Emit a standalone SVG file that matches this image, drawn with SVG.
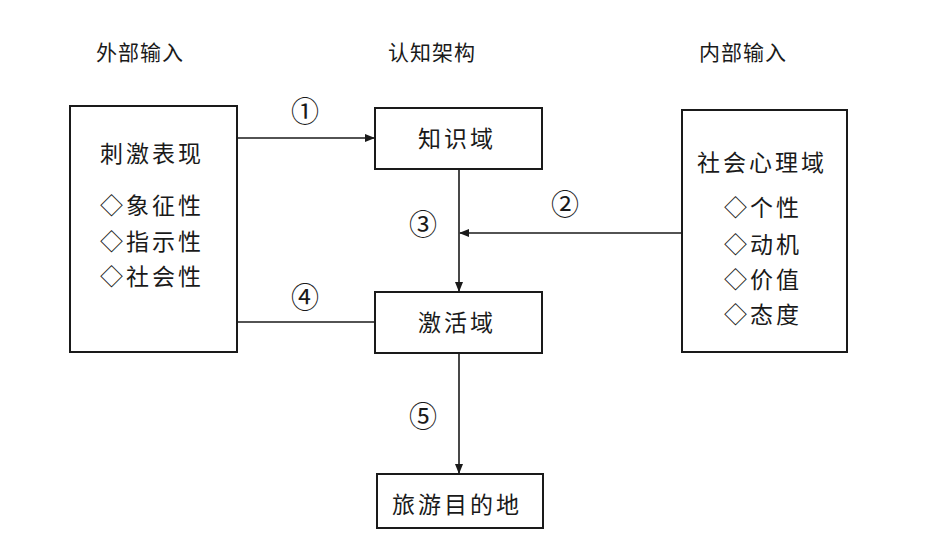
<svg xmlns="http://www.w3.org/2000/svg" width="930" height="548" viewBox="0 0 930 548">
<style>
.box{fill:#fff;stroke:#1a1a1a;stroke-width:2}
.t{font-family:"Noto Sans CJK SC","Noto Sans",sans-serif;font-size:23px;fill:#1a1a1a;letter-spacing:3px}
.h{font-family:"Noto Sans CJK SC","Noto Sans",sans-serif;font-size:21px;fill:#1a1a1a;letter-spacing:1px;text-anchor:middle}
.n{font-family:"Noto Sans CJK SC","DejaVu Sans",sans-serif;font-size:28px;fill:#1a1a1a;text-anchor:middle}
.ln{stroke:#1a1a1a;stroke-width:1.6;fill:none}
</style>
<defs>
<marker id="ah" markerWidth="10" markerHeight="10" refX="9" refY="5" orient="auto" markerUnits="userSpaceOnUse">
<path d="M0,1 L10,5 L0,9 Z" fill="#1a1a1a"/>
</marker>
</defs>
<rect width="930" height="548" fill="#fff"/>
<g id="headers">
<text class="h" x="140" y="60">外部输入</text>
<text class="h" x="432" y="60">认知架构</text>
<text class="h" x="743" y="60">内部输入</text>
</g>
<g id="external">
<rect class="box" x="70" y="106" width="167" height="246"/>
<text class="t" x="100" y="162">刺激表现</text>
<text class="t" x="100" y="214">◇象征性</text>
<text class="t" x="100" y="250">◇指示性</text>
<text class="t" x="100" y="285">◇社会性</text>
</g>
<g id="knowledge">
<rect class="box" x="375" y="108" width="167" height="61"/>
<text class="t" x="418" y="147">知识域</text>
</g>
<g id="activation">
<rect class="box" x="375" y="292" width="167" height="61"/>
<text class="t" x="418" y="331">激活域</text>
</g>
<g id="destination">
<rect class="box" x="377" y="474" width="166" height="54"/>
<text class="t" x="392" y="513">旅游目的地</text>
</g>
<g id="internal">
<rect class="box" x="682" y="110" width="165" height="242"/>
<text class="t" x="697" y="171">社会心理域</text>
<text class="t" x="724" y="216">◇个性</text>
<text class="t" x="724" y="253">◇动机</text>
<text class="t" x="724" y="288">◇价值</text>
<text class="t" x="724" y="323">◇态度</text>
</g>
<g id="connectors">
<line class="ln" x1="237" y1="138" x2="374" y2="138" marker-end="url(#ah)"/>
<line class="ln" x1="682" y1="233" x2="460" y2="233" marker-end="url(#ah)"/>
<line class="ln" x1="459" y1="169" x2="459" y2="291" marker-end="url(#ah)"/>
<line class="ln" x1="237" y1="322" x2="375" y2="322"/>
<line class="ln" x1="459" y1="353" x2="459" y2="473" marker-end="url(#ah)"/>
<text class="n" x="305" y="122">①</text>
<text class="n" x="565" y="215">②</text>
<text class="n" x="423" y="235">③</text>
<text class="n" x="305" y="308">④</text>
<text class="n" x="423" y="427">⑤</text>
</g>
</svg>
